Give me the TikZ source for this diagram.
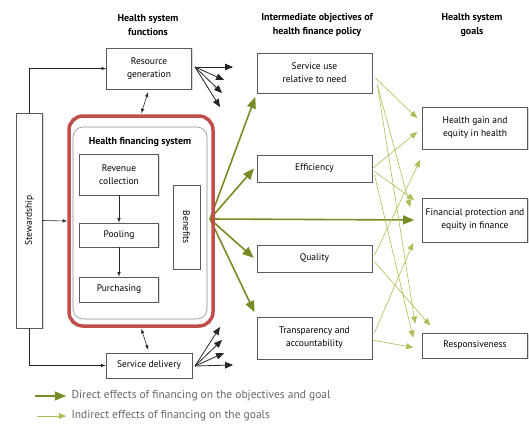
\documentclass[tikz,border=0pt]{standalone}
\usepackage{fontspec}
\setmainfont{PT Sans}
\usepackage{tikz}
\usetikzlibrary{arrows,shadows}
\definecolor{hfsred}{RGB}{192,78,74}
\definecolor{directgreen}{RGB}{118,140,38}
\definecolor{indirectgreen}{RGB}{176,188,84}

\begin{document}
\begin{tikzpicture}[x=1pt, y=-1pt, every node/.style={font=\fontsize{9.5}{13}\selectfont, align=center}]
        \tikzset{box/.style={draw=black!65, line width=0.7pt, fill=white, inner sep=1pt,
            drop shadow={shadow xshift=1pt, shadow yshift=-1pt, fill=black!30}}}
        \tikzset{head/.style={font=\fontsize{10}{14}\selectfont\bfseries}}
        \tikzset{link/.style={-latex, black!85, line width=0.6pt}}
        \tikzset{fan/.style={-triangle 45, black!85, line width=0.8pt}}
        \tikzset{direct/.style={-triangle 45, directgreen, line width=1.6pt}}
        \tikzset{indirect/.style={-triangle 45, indirectgreen, line width=0.6pt}}
        \useasboundingbox (0,0) rectangle (529,426);
        % column heads
        \node[head] (hfun) at (148,25) {Health system\\functions};
        \node[head] (hobj) at (317,25) {Intermediate objectives of\\health finance policy};
        \node[head] (hgoal) at (472,25) {Health system\\goals};
        % objectives and goals
        \node[box, minimum width=115, minimum height=40] (sun) at (314.5,73) {Service use\\relative to need};
        \node[box, minimum width=115, minimum height=27] (eff) at (314.5,168.5) {Efficiency};
        \node[box, minimum width=115, minimum height=27] (qual) at (314.5,258.5) {Quality};
        \node[box, minimum width=115, minimum height=42] (transp) at (314.5,338) {Transparency and\\accountability};
        \node[box, minimum width=105, minimum height=42] (hgain) at (475,128) {Health gain and\\equity in health};
        \node[box, minimum width=105, minimum height=44] (finprot) at (475,220) {Financial protection and\\equity in finance};
        \node[box, minimum width=105, minimum height=25] (resp) at (475,345.5) {Responsiveness};
        % direct effects
        \coordinate (src) at (210,219);
        \draw[direct, shorten >=4pt] (src) -- (sun.south west);
        \draw[direct, shorten >=4pt] (src) -- ([yshift=3]eff.west);
        \draw[direct, shorten >=8pt] (src) -- (finprot.west);
        \draw[direct, shorten >=4pt] (src) -- ([yshift=-2]qual.west);
        \draw[direct, shorten >=5pt] (src) -- (transp.north west);
        % indirect effects
        \draw[indirect] ([shift={(3,5)}]sun.east) -- ([shift={(-5,-10)}]hgain.west);
        \draw[indirect] ([shift={(5,12)}]sun.east) -- ([shift={(-12,-13)}]finprot.west);
        \draw[indirect] ([shift={(5,12)}]sun.east) -- ([shift={(-7,-22)}]resp.west);
        \draw[indirect] (eff.east) -- ([shift={(-5,4)}]hgain.west);
        \draw[indirect] ([shift={(2,3)}]eff.east) -- ([shift={(-8,-20)}]finprot.west);
        \draw[indirect] ([shift={(2,6)}]eff.east) -- ([shift={(-9,-8)}]resp.west);
        \draw[indirect] ([shift={(2,-3)}]qual.east) -- ([shift={(-2,32)}]hgain.west);
        \draw[indirect] ([shift={(2,3)}]qual.east) -- ([shift={(8,-20)}]resp.west);
        \draw[indirect] ([shift={(2,-5)}]transp.east) -- ([shift={(-9,23)}]finprot.west);
        \draw[indirect] ([shift={(0,2)}]transp.east) -- ([shift={(-9,2)}]resp.west);
        % health financing system
        \node[draw=hfsred, line width=3.5pt, rounded corners=14pt, minimum width=144, minimum height=210] (hfsframe) at (141,221) {};
        \node[draw=black!45, line width=0.6pt, rounded corners=10pt, minimum width=134, minimum height=192] (hfsinner) at (140,223) {};
        \node[font=\fontsize{10}{12}\selectfont\bfseries] (hfstitle) at (140,142) {Health financing system};
        \node[box, minimum width=79, minimum height=41] (revcol) at (119,174.5) {Revenue\\collection};
        \node[box, minimum width=79, minimum height=24] (pool) at (119,235) {Pooling};
        \node[box, minimum width=79, minimum height=25] (purch) at (119,289.5) {Purchasing};
        \node[box, minimum width=27, minimum height=84] (benef) at (186.5,227) {\rotatebox{-90}{Benefits}};
        \draw[link] (revcol) -- (pool);
        \draw[link] (pool) -- (purch);
        % functions
        \node[box, minimum width=26, minimum height=215] (stew) at (29.5,220.5) {\rotatebox{90}{Stewardship}};
        \node[box, minimum width=85, minimum height=41] (resgen) at (149,68.5) {Resource\\generation};
        \node[box, minimum width=86, minimum height=25] (servdel) at (149,365.5) {Service delivery};
        \draw[link] (stew.north) |- (resgen.west);
        \draw[link] (stew.south) |- (servdel.west);
        \draw[link] (stew.east) -- (hfsframe.west);
        \draw[link, latex-latex, shorten <=3pt, shorten >=1pt] (resgen.south) -- (hfsframe.north);
        \draw[link, latex-latex, shorten <=1pt, shorten >=3pt] (hfsframe.south) -- (servdel.north);
        \coordinate (rgo) at (195,67);
        \foreach \n/\x/\y in {1/233/67, 2/224/80, 3/222/93, 4/220/107} {
            \coordinate (rg\n) at (\x,\y);
            \draw[fan] (rgo) -- (rg\n);
        }
        \coordinate (sdo) at (195,366);
        \foreach \n/\x/\y in {1/220/327, 2/222/340, 3/224/353, 4/233/365} {
            \coordinate (sd\n) at (\x,\y);
            \draw[fan] (sdo) -- (sd\n);
        }
        % legend
        \coordinate (l1a) at (35,396);
        \coordinate (l1b) at (66,396);
        \coordinate (l2a) at (37,416);
        \coordinate (l2b) at (66,416);
        \draw[direct] (l1a) -- (l1b);
        \draw[indirect] (l2a) -- (l2b);
        \node[anchor=west, text=black!60, font=\fontsize{11.5}{13}\selectfont] (l1txt) at (68,396) {Direct effects of financing on the objectives and goal};
        \node[anchor=west, text=black!60, font=\fontsize{11.5}{13}\selectfont] (l2txt) at (68,416) {Indirect effects of financing on the goals};
\end{tikzpicture}
\end{document}
